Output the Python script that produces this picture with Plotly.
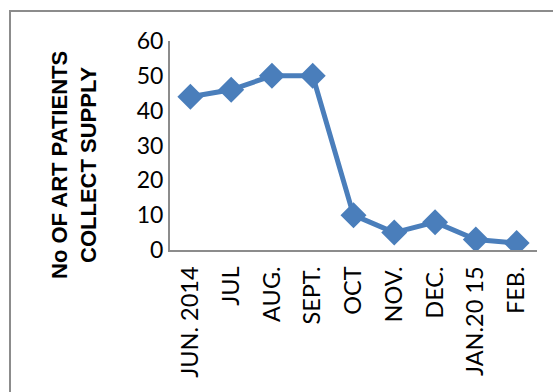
import plotly.graph_objects as go

months = ["JUN. 2014", "JUL", "AUG.", "SEPT.", "OCT", "NOV.", "DEC.", "JAN.20 15", "FEB."]
patients = [44, 46, 50, 50, 10, 5, 8, 3, 2]
y_ticks = [0, 10, 20, 30, 40, 50, 60]
y_title = "No OF ART PATIENTS<br>COLLECT SUPPLY"

color = "#4a7ebb"
axis_color = "#8c8c8c"

fig = go.Figure()
fig.add_trace(go.Scatter(
    x=months, y=patients, mode="lines+markers",
    line=dict(color=color, width=5),
    marker=dict(symbol="diamond", size=20, color=color),
    showlegend=False,
))

L, R, T, B = 170, 16, 41, 142
W, H = 553, 392
pw, ph = W - L - R, H - T - B

fig.update_layout(
    width=W, height=H,
    margin=dict(l=L, r=R, t=T, b=B, pad=0),
    paper_bgcolor="white", plot_bgcolor="white",
    font=dict(family="Lato, Liberation Sans, sans-serif", size=22, color="black"),
    xaxis=dict(
        type="category", range=[-0.5, len(months) - 0.5],
        showline=True, linecolor=axis_color, linewidth=2,
        showgrid=False, zeroline=False, ticks="",
        tickangle=-90, tickfont=dict(size=23.5), ticklabelstandoff=5,
    ),
    yaxis=dict(
        range=[0, 60], tickvals=y_ticks,
        showline=True, linecolor=axis_color, linewidth=2,
        showgrid=False, zeroline=False, ticks="",
        tickfont=dict(size=23), ticklabelstandoff=0,
    ),
    shapes=[dict(
        type="rect", xref="paper", yref="paper",
        x0=(10 - L) / pw, x1=(W + 20 - L) / pw,
        y0=(H - B - (H + 20)) / ph, y1=(H - B - 11) / ph,
        line=dict(color=axis_color, width=2), fillcolor="rgba(0,0,0,0)", layer="below",
    )],
    annotations=[dict(
        text="<b>" + y_title + "</b>", textangle=-90,
        xref="paper", yref="paper",
        x=(74 - L) / pw, y=(H - B - 165) / ph,
        xanchor="center", yanchor="middle", showarrow=False,
        font=dict(family="Liberation Sans, Arial, sans-serif", size=22, color="black"),
        align="center",
    )],
)

fig.write_html("out.html")
